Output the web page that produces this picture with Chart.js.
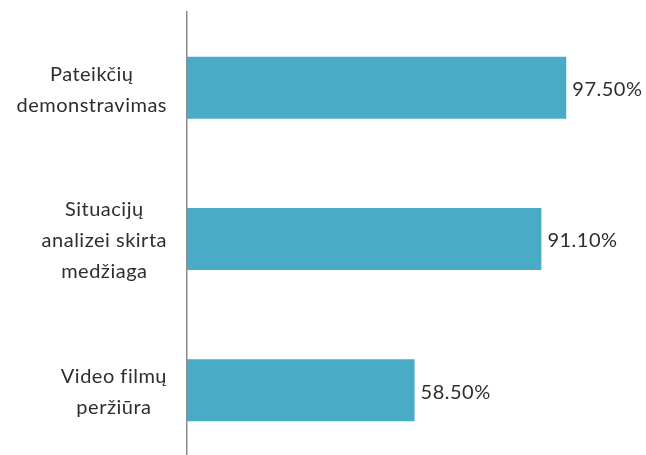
<!DOCTYPE html>
<html>
<head>
<meta charset="utf-8">
<script src="https://cdn.jsdelivr.net/npm/chart.js@4"></script>
<style>
  html, body { margin: 0; padding: 0; background: #fff; overflow: hidden; }
  #wrap { position: relative; width: 646px; height: 466px; }
</style>
</head>
<body>
<div id="wrap"><canvas id="barChart"></canvas></div>
<script>
// chart data
var categories = [
    ['Pateikčių', 'demonstravimas'],
    ['Situacijų', 'analizei skirta', 'medžiaga'],
    ['Video filmų', 'peržiūra']
];
var values = [97.5, 91.1, 58.5];

var barColor = '#4aabc6';
var textColor = '#2e2e2e';
var fontFamily = 'Lato, "Open Sans", sans-serif';
var fontSize = 20;
var lineGap = 31;

// value at the end of each bar
var valueLabels = {
    id: 'valueLabels',
    afterDatasetsDraw: function (chart) {
        var ctx = chart.ctx;
        var meta = chart.getDatasetMeta(0);
        ctx.save();
        ctx.font = fontSize + 'px ' + fontFamily;
        ctx.letterSpacing = '0.5px';
        ctx.fillStyle = textColor;
        ctx.textAlign = 'left';
        ctx.textBaseline = 'middle';
        meta.data.forEach(function (bar, i) {
            var v = chart.data.datasets[0].data[i];
            ctx.fillText(v.toFixed(2) + '%', bar.x + 6, bar.y + 2);
        });
        ctx.restore();
    }
};

// category labels: block sits right against the axis, lines centred inside it
var categoryLabels = {
    id: 'categoryLabels',
    afterDraw: function (chart) {
        var ctx = chart.ctx;
        var yScale = chart.scales.y;
        var right = yScale.right - 20;
        ctx.save();
        ctx.font = fontSize + 'px ' + fontFamily;
        ctx.letterSpacing = '0.5px';
        ctx.fillStyle = textColor;
        ctx.textAlign = 'center';
        ctx.textBaseline = 'middle';
        chart.data.labels.forEach(function (lines, i) {
            var y = yScale.getPixelForTick(i);
            var w = 0;
            lines.forEach(function (l) { w = Math.max(w, ctx.measureText(l).width); });
            var cx = right - w / 2;
            lines.forEach(function (l, j) {
                ctx.fillText(l, cx, y + 2 + (j - (lines.length - 1) / 2) * lineGap);
            });
        });
        ctx.restore();
    }
};

const ctx = document.getElementById('barChart').getContext('2d');
new Chart(ctx, {
    type: 'bar',
    data: {
        labels: categories,
        datasets: [{
            data: values,
            backgroundColor: barColor,
            barPercentage: 0.41,
            categoryPercentage: 1
        }]
    },
    plugins: [valueLabels, categoryLabels],
    options: {
        indexAxis: 'y',
        responsive: true,
        maintainAspectRatio: false,
        animation: false,
        layout: {
            padding: { top: 12, right: 70, left: 0, bottom: 0 }
        },
        plugins: {
            legend: { display: false },
            tooltip: { enabled: false }
        },
        scales: {
            x: {
                min: 0,
                max: 100,
                display: false
            },
            y: {
                grid: { display: false, drawTicks: false },
                border: { display: true, color: '#8c8c8c', width: 1.5 },
                ticks: { display: false },
                afterFit: function (scale) {
                    scale.width = 187;
                    scale.paddingTop = 0;
                    scale.paddingBottom = 0;
                }
            }
        }
    }
});
</script>
</body>
</html>
